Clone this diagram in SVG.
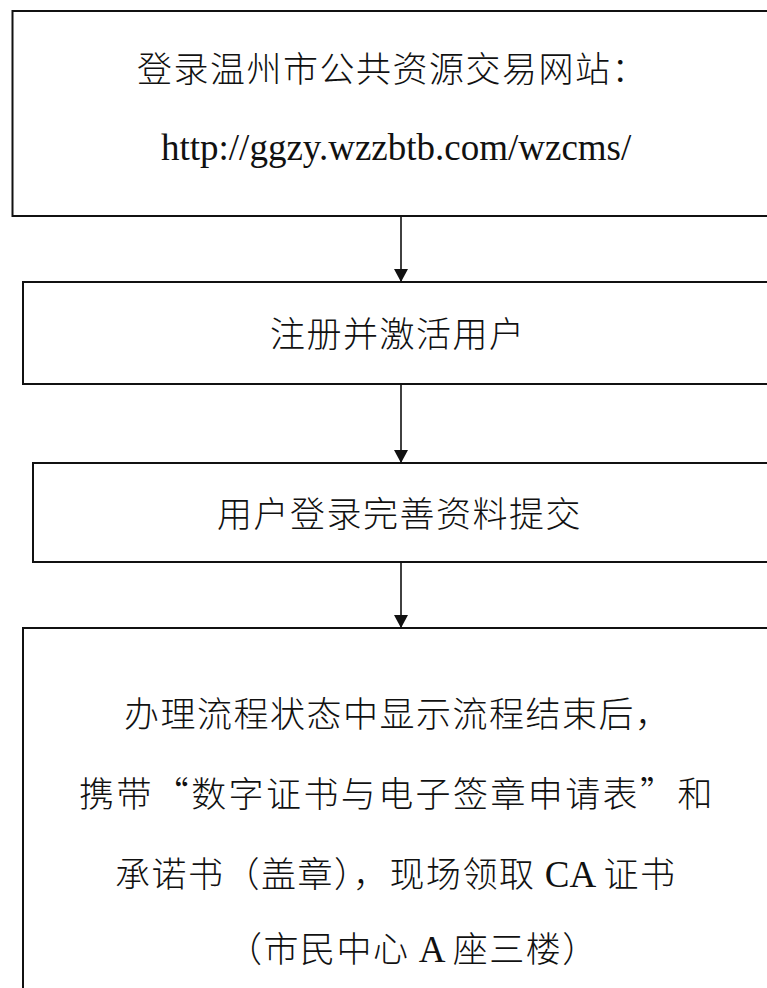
<svg xmlns="http://www.w3.org/2000/svg" width="767" height="988" viewBox="0 0 767 988">
<defs>
<style>
.box{fill:#fff;stroke:#111;stroke-width:2}
.cn{font-family:"Noto Sans CJK SC","Liberation Serif",sans-serif;font-size:35px;font-weight:300;fill:#111;letter-spacing:1.5px}
.wide{letter-spacing:2.4px}
.lat{font-family:"Liberation Serif",serif;font-size:37px;font-weight:400;letter-spacing:0}
.url{font-family:"Liberation Serif",serif;font-size:37px;fill:#111}
.conn{stroke:#111;stroke-width:1.6;fill:none}
</style>
<marker id="arr" markerUnits="userSpaceOnUse" markerWidth="14" markerHeight="14" refX="13" refY="7" orient="auto" viewBox="0 0 14 14">
<path d="M0,0 L13,7 L0,14 Z" fill="#111"/>
</marker>
</defs>
<rect width="767" height="988" fill="#fff"/>
<g id="node1">
<rect class="box" x="12.5" y="11" width="780" height="205"/>
<text class="cn" x="137" y="82">登录温州市公共资源交易网站：</text>
<text class="url" x="161" y="160">http://ggzy.wzzbtb.com/wzcms/</text>
</g>
<g id="node2">
<rect class="box" x="23" y="282" width="780" height="102"/>
<text class="cn" x="270" y="347">注册并激活用户</text>
</g>
<g id="node3">
<rect class="box" x="33" y="463" width="780" height="99"/>
<text class="cn" x="217" y="527">用户登录完善资料提交</text>
</g>
<g id="node4">
<rect class="box" x="23" y="628" width="780" height="400"/>
<text class="cn" x="124" y="727">办理流程状态中显示流程结束后，</text>
<text class="cn wide" x="79" y="807">携带“数字证书与电子签章申请表”和</text>
<text class="cn" x="115" y="887">承诺书（盖章），现场领取<tspan class="lat"> CA </tspan>证书</text>
<text class="cn" x="227" y="962">（市民中心<tspan class="lat"> A </tspan>座三楼）</text>
</g>
<g id="connectors">
<line class="conn" x1="401" y1="216" x2="401" y2="282" marker-end="url(#arr)"/>
<line class="conn" x1="401" y1="384" x2="401" y2="463" marker-end="url(#arr)"/>
<line class="conn" x1="401" y1="562" x2="401" y2="628" marker-end="url(#arr)"/>
</g>
</svg>
